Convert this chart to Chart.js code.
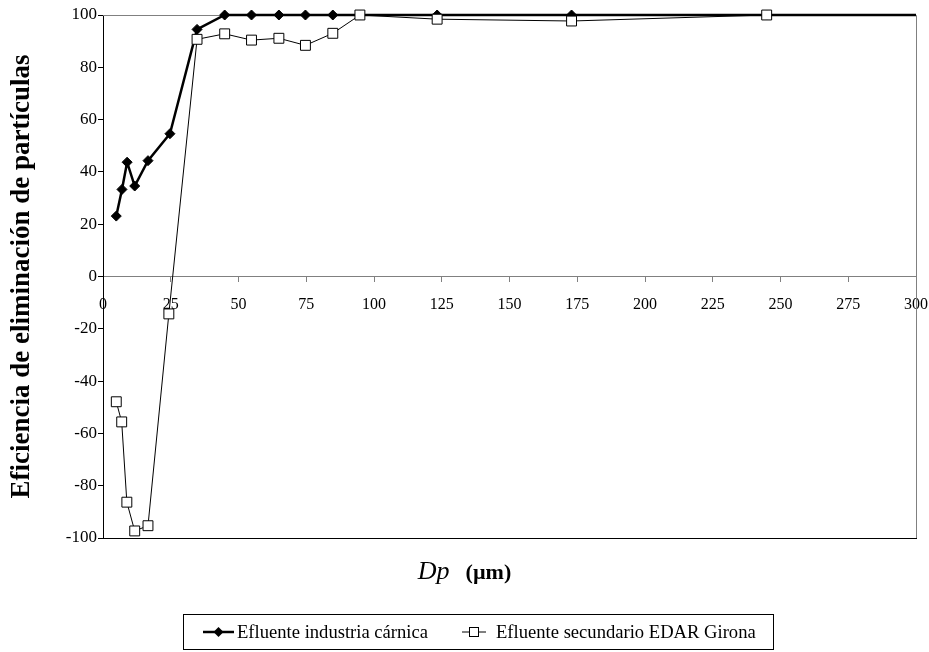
<!DOCTYPE html>
<html>
<head>
<meta charset="utf-8">
<script src="https://cdn.jsdelivr.net/npm/chart.js@4.4.1/dist/chart.umd.min.js"></script>
<style>
  html, body { margin: 0; padding: 0; background: #fff; }
  #wrap { position: relative; width: 929px; height: 652px; }
  #xtitle { position: absolute; left: 0; width: 929px; top: 556px; text-align: center;
    font-family: "Liberation Serif", serif; color: #000; }
  #xtitle i { font-size: 26px; }
  #xtitle b { font-size: 22px; margin-left: 16px; }
  #legend { position: absolute; left: 183px; top: 614px; width: 591px; height: 36px;
    border: 1px solid #000; box-sizing: border-box;
    font-family: "Liberation Serif", serif; font-size: 18.6px; color: #000; }
  #legend span { position: absolute; top: 0; height: 34px; display: inline-flex; align-items: center; white-space: nowrap; }
</style>
</head>
<body>
<div id="wrap">
  <canvas id="chart" width="929" height="652"></canvas>
  <div id="xtitle"><i>Dp</i><b>(µm)</b></div>
  <div id="legend">
    <span style="left:19px">
      <svg width="31" height="12" style="margin-right:3px"><line x1="0" y1="6" x2="31" y2="6" stroke="#000" stroke-width="2.5"/><polygon points="15.5,1 20.5,6 15.5,11 10.5,6" fill="#000"/></svg>Efluente industria cárnica</span>
    <span style="left:278px">
      <svg width="24" height="12" style="margin-right:10px"><line x1="0" y1="6" x2="24" y2="6" stroke="#000" stroke-width="1"/><rect x="7.5" y="1.5" width="9" height="9" fill="#fff" stroke="#000"/></svg>Efluente secundario EDAR Girona</span>
  </div>
</div>
<script>
const serif = "'Liberation Serif', 'Times New Roman', serif";

// Dp (µm) and removal efficiency (%)
const carnicaX = [4.9, 7.0, 8.9, 11.7, 16.6, 24.7, 34.7, 44.9, 54.8, 64.9, 74.7, 84.8, 94.8, 123.3, 172.9, 244.9, 350];
const carnicaY = [23.1, 33.3, 43.7, 34.6, 44.3, 54.6, 94.5, 100, 100, 100, 100, 100, 100, 100, 100, 100, 100];

const gironaX = [4.9, 6.9, 8.8, 11.7, 16.6, 24.3, 34.7, 44.9, 54.8, 64.9, 74.7, 84.8, 94.8, 123.3, 172.9, 244.9];
const gironaY = [-47.9, -55.6, -86.3, -97.3, -95.3, -14.3, 90.7, 92.8, 90.4, 91.1, 88.4, 93.0, 100, 98.4, 97.7, 100];

const xTicks = [0, 25, 50, 75, 100, 125, 150, 175, 200, 225, 250, 275, 300];

function toPoints(xs, ys) {
  return xs.map((x, i) => ({ x, y: ys[i] }));
}

// box round the plot area (top, right, bottom)
const frame = {
  id: "frame",
  beforeDatasetsDraw(chart) {
    const { ctx, chartArea: a } = chart;
    ctx.save();
    ctx.lineWidth = 1;
    ctx.strokeStyle = "#808080";
    ctx.beginPath();
    ctx.moveTo(a.left, a.top + 0.5);
    ctx.lineTo(a.right + 0.5, a.top + 0.5);
    ctx.lineTo(a.right + 0.5, a.bottom);
    ctx.stroke();
    ctx.strokeStyle = "#000";
    ctx.beginPath();
    ctx.moveTo(a.left, a.bottom + 0.5);
    ctx.lineTo(a.right + 1, a.bottom + 0.5);
    ctx.stroke();
    ctx.restore();
  },
};

new Chart(document.getElementById("chart"), {
  type: "line",
  data: {
    datasets: [
      {
        label: "Efluente industria cárnica",
        data: toPoints(carnicaX, carnicaY),
        borderColor: "#000",
        borderWidth: 2.5,
        pointStyle: "rectRot",
        pointRadius: 5,
        pointBackgroundColor: "#000",
        pointBorderColor: "#000",
        pointBorderWidth: 1,
        order: 2,
        clip: { left: 8, top: 8, right: 0, bottom: 8 },
      },
      {
        label: "Efluente secundario EDAR Girona",
        data: toPoints(gironaX, gironaY),
        borderColor: "#000",
        borderWidth: 1,
        pointStyle: "rect",
        pointRadius: 7,
        pointBackgroundColor: "#fff",
        pointBorderColor: "#000",
        pointBorderWidth: 1,
        order: 1,
        clip: { left: 8, top: 8, right: 8, bottom: 8 },
      },
    ],
  },
  options: {
    responsive: false,
    animation: false,
    layout: { padding: { top: 15, right: 13, bottom: 114, left: 0 } },
    plugins: {
      legend: { display: false },
      tooltip: { enabled: false },
    },
    scales: {
      x: {
        type: "linear",
        position: { y: 0 },
        min: 0,
        max: 300,
        afterBuildTicks: (axis) => { axis.ticks = xTicks.map((v) => ({ value: v })); },
        afterFit: (axis) => { axis.paddingLeft = 0; axis.paddingRight = 0; },
        ticks: { color: "#000", font: { family: serif, size: 16 }, padding: 14, maxRotation: 0 },
        grid: { drawOnChartArea: false, drawTicks: true, tickLength: 5, color: "#808080" },
        border: { color: "#808080", width: 1 },
      },
      y: {
        min: -100,
        max: 100,
        afterFit: (axis) => { axis.width = 103; axis.paddingTop = 0; axis.paddingBottom = 0; },
        ticks: { stepSize: 20, color: "#000", font: { family: serif, size: 17 }, padding: 1 },
        grid: { drawOnChartArea: false, drawTicks: true, tickLength: 5, color: "#000" },
        border: { color: "#000", width: 1 },
        title: {
          display: true,
          text: "Eficiencia de eliminación de partículas",
          color: "#000",
          font: { family: serif, size: 27, weight: "bold" },
          padding: { top: 6, bottom: 4 },
        },
      },
    },
  },
  plugins: [frame],
});
</script>
</body>
</html>
